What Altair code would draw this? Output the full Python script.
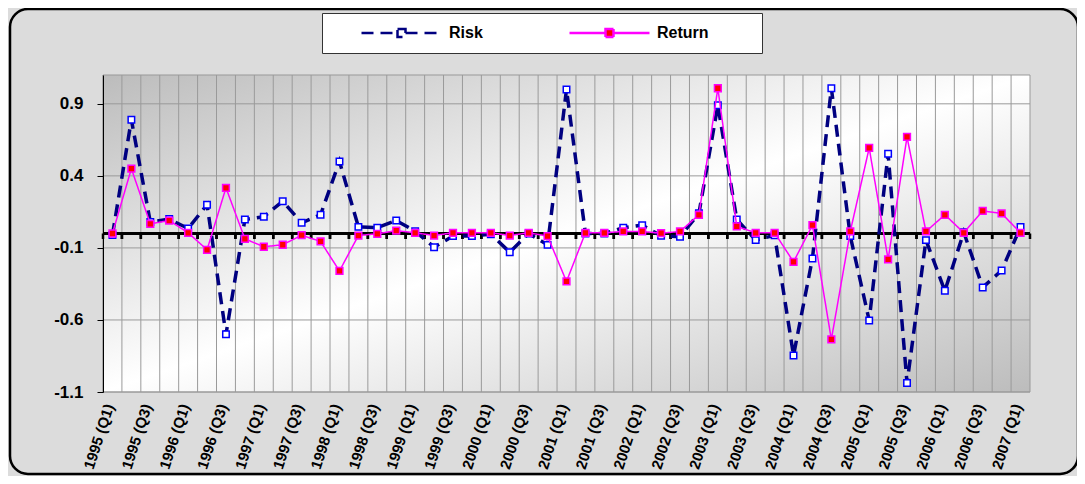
import altair as alt
import pandas as pd

periods = [
    "1995 (Q1)", "1995 (Q2)", "1995 (Q3)", "1995 (Q4)",
    "1996 (Q1)", "1996 (Q2)", "1996 (Q3)", "1996 (Q4)",
    "1997 (Q1)", "1997 (Q2)", "1997 (Q3)", "1997 (Q4)",
    "1998 (Q1)", "1998 (Q2)", "1998 (Q3)", "1998 (Q4)",
    "1999 (Q1)", "1999 (Q2)", "1999 (Q3)", "1999 (Q4)",
    "2000 (Q1)", "2000 (Q2)", "2000 (Q3)", "2000 (Q4)",
    "2001 (Q1)", "2001 (Q2)", "2001 (Q3)", "2001 (Q4)",
    "2002 (Q1)", "2002 (Q2)", "2002 (Q3)", "2002 (Q4)",
    "2003 (Q1)", "2003 (Q2)", "2003 (Q3)", "2003 (Q4)",
    "2004 (Q1)", "2004 (Q2)", "2004 (Q3)", "2004 (Q4)",
    "2005 (Q1)", "2005 (Q2)", "2005 (Q3)", "2005 (Q4)",
    "2006 (Q1)", "2006 (Q2)", "2006 (Q3)", "2006 (Q4)",
    "2007 (Q1)",
]
x_labels = [
    "1995 (Q1)", "1995 (Q3)", "1996 (Q1)", "1996 (Q3)", "1997 (Q1)",
    "1997 (Q3)", "1998 (Q1)", "1998 (Q3)", "1999 (Q1)", "1999 (Q3)",
    "2000 (Q1)", "2000 (Q3)", "2001 (Q1)", "2001 (Q3)", "2002 (Q1)",
    "2002 (Q3)", "2003 (Q1)", "2003 (Q3)", "2004 (Q1)", "2004 (Q3)",
    "2005 (Q1)", "2005 (Q3)", "2006 (Q1)", "2006 (Q3)", "2007 (Q1)",
]
risk = [
    -0.01, 0.79, 0.08, 0.10, 0.035, 0.20, -0.70, 0.097, 0.116, 0.224,
    0.074, 0.13, 0.50, 0.046, 0.04, 0.09, 0.016, -0.095, -0.018, -0.018,
    -0.005, -0.13, 0.0, -0.079, 1.00, 0.0, 0.0, 0.04, 0.058, -0.016,
    -0.023, 0.14, 0.89, 0.097, -0.046, -0.012, -0.846, -0.173, 1.008, -0.018,
    -0.603, 0.553, -1.038, -0.046, -0.398, 0.009, -0.374, -0.257, 0.046,
]
ret = [
    0.0, 0.45, 0.067, 0.09, 0.005, -0.113, 0.317, -0.037, -0.092, -0.078,
    -0.012, -0.055, -0.26, -0.014, -0.002, 0.02, 0.005, -0.014, 0.005, 0.005,
    0.005, -0.014, 0.005, -0.018, -0.333, 0.005, 0.005, 0.014, 0.014, 0.002,
    0.014, 0.13, 1.008, 0.049, 0.005, 0.005, -0.197, 0.058, -0.735, 0.014,
    0.594, -0.18, 0.67, 0.014, 0.13, 0.005, 0.157, 0.139, 0.005,
]
series_names = ["Risk", "Return"]
y_ticks = [-1.1, -0.6, -0.1, 0.4, 0.9]
y_domain = [-1.1, 1.1]

W, H = 927, 317
FONT = "Liberation Sans"

rows = []
for i, p in enumerate(periods):
    rows.append({"period": p, "series": "Risk", "value": risk[i], "idx": i})
    rows.append({"period": p, "series": "Return", "value": ret[i], "idx": i})
df = pd.DataFrame(rows)
df_periods = pd.DataFrame({"period": periods})
df_yt = pd.DataFrame({"v": y_ticks})
one = pd.DataFrame({"v": [0]})

x_scale = alt.Scale(type="band", domain=periods, paddingInner=0, paddingOuter=0)
y_scale = alt.Scale(domain=y_domain, nice=False, zero=False)

x_axis = alt.Axis(
    values=x_labels, labelAngle=-72, labelFont=FONT, labelFontSize=15,
    labelFontWeight="bold", labelColor="black", ticks=False, domain=False,
    grid=False, title=None, labelPadding=12, labelOffset=-3,
    labelOverlap=False, labelBound=False,
)
y_axis = alt.Axis(
    values=y_ticks, labelExpr="'' + datum.value", labelFont=FONT, labelFontSize=17,
    labelFontWeight="bold", labelColor="black", grid=False, title=None,
    domainColor="black", domainWidth=1, tickColor="black", tickSize=6,
    labelPadding=14, zindex=1,
)


def xenc(bp):
    return alt.X("period:N", scale=x_scale, bandPosition=bp, axis=x_axis)


PATH = "M-1,0H-0.1M0.1,0H1M-0.1,-0.1H0.1V0.1H-0.1Z"
legend = alt.Legend(
    title="\u00a0", titleOrient="right", titleFontSize=16, titlePadding=42,
    orient="none", legendX=219, legendY=-62, direction="horizontal",
    symbolType=PATH, symbolSize=6400, clipHeight=18, fillColor="white",
    strokeColor="#333333", padding=11, columnPadding=58, symbolOffset=27,
    labelOffset=6, labelFont=FONT, labelFontSize=16, labelFontWeight="bold",
    labelColor="black", symbolStrokeWidth=2.5,
)
stroke_enc = alt.Stroke("series:N", scale=alt.Scale(domain=series_names, range=["#000080", "#ff00ff"]), legend=legend)
dash_enc = alt.StrokeDash("series:N", scale=alt.Scale(domain=series_names, range=[[12, 7], [1, 0]]), legend=legend)
fill_enc = alt.Fill("series:N", scale=alt.Scale(domain=series_names, range=["#ffffff", "#ff0000"]), legend=legend)

frame = alt.Chart(one).mark_rect(
    fill=None, stroke="black", strokeWidth=2.5, cornerRadius=18
).encode(x=alt.value(-93), x2=alt.value(975), y=alt.value(-66), y2=alt.value(399))

bg = alt.Chart(one).mark_rect(
    fill={"gradient": "linear", "x1": 0, "y1": 0, "x2": 1, "y2": 1,
          "stops": [{"offset": 0, "color": "#bcbcbc"},
                    {"offset": 0.5, "color": "#ffffff"},
                    {"offset": 1, "color": "#bcbcbc"}]},
    stroke="#999999", strokeWidth=1,
).encode(x=alt.value(0), x2=alt.value("width"), y=alt.value(0), y2=alt.value("height"))

vgrid = alt.Chart(df_periods).mark_rule(color="#9a9a9a", strokeWidth=1).encode(x=xenc(0))
hgrid = alt.Chart(df_yt).mark_rule(color="#9a9a9a", strokeWidth=1).encode(
    y=alt.Y("v:Q", scale=y_scale, axis=y_axis))

zero = alt.Chart(one).mark_rule(color="black", strokeWidth=3).encode(
    y=alt.Y("v:Q", scale=y_scale, axis=y_axis))
zt0 = alt.Chart(df_periods).mark_rule(color="black", strokeWidth=2.5).encode(
    x=xenc(0), y=alt.Y(datum=0, scale=y_scale, axis=y_axis), y2=alt.Y2(datum=-0.038))
zt1 = alt.Chart(df_periods).mark_rule(color="black", strokeWidth=2.5).encode(
    x=xenc(1), y=alt.Y(datum=0, scale=y_scale, axis=y_axis), y2=alt.Y2(datum=-0.038))

Yv = alt.Y("value:Q", scale=y_scale, axis=y_axis)

risk_line = alt.Chart(df).transform_filter("datum.series == 'Risk'").mark_line(
    strokeWidth=3.5).encode(x=xenc(0.5), y=Yv, stroke=stroke_enc, strokeDash=dash_enc, order="idx:Q")
risk_pts = alt.Chart(df).transform_filter("datum.series == 'Risk'").mark_point(
    shape="square", size=42, stroke="#0000ff", strokeWidth=1.5, opacity=1).encode(
    x=xenc(0.5), y=Yv, fill=fill_enc)
ret_line = alt.Chart(df).transform_filter("datum.series == 'Return'").mark_line(
    strokeWidth=1.5).encode(x=xenc(0.5), y=Yv, stroke=stroke_enc, strokeDash=dash_enc, order="idx:Q")
ret_pts = alt.Chart(df).transform_filter("datum.series == 'Return'").mark_point(
    shape="square", size=46, stroke="#ff00ff", strokeWidth=1.5, opacity=1).encode(
    x=xenc(0.5), y=Yv, fill=fill_enc)

chart = alt.layer(
    frame, bg, vgrid, hgrid, zero, zt0, zt1, risk_line, risk_pts, ret_line, ret_pts
).properties(
    width=W, height=H, autosize="none",
    padding={"left": 95, "top": 67, "right": 47, "bottom": 84},
    background="#dcdcdc",
).configure_view(stroke=None)

chart.save("out.html", embed_options={"renderer": "svg", "actions": False})
